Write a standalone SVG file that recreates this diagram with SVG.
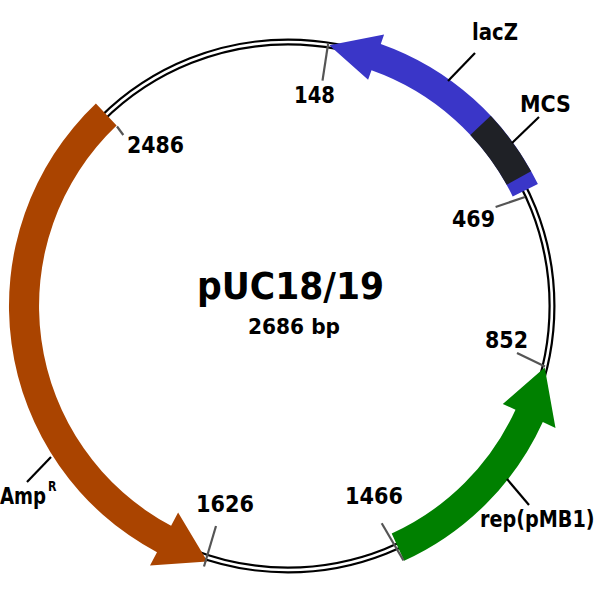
<svg xmlns="http://www.w3.org/2000/svg" width="600" height="600" viewBox="0 0 600 600">
<style>
text{font-family:"DejaVu Sans","Verdana",sans-serif;font-weight:bold;fill:#000}
.lbl{font-size:23px}
.tick{stroke:#555;stroke-width:2.2;fill:none}
.lead{stroke:#000;stroke-width:2.2;fill:none}
</style>
<rect width="600" height="600" fill="#fff"/>
<g id="backbone">
<circle cx="288" cy="306" r="264" fill="none" stroke="#000" stroke-width="7"/>
<circle cx="288" cy="306" r="264" fill="none" stroke="#fff" stroke-width="2.6"/>
</g>
<g id="lacZ">
<path d="M537.9,184.1 A278,278 0 0 0 380.8,44.0 L384.1,34.5 L329.3,45.3 L368.1,79.8 L371.5,70.3 A250,250 0 0 1 512.7,196.4 Z" fill="#3a36c8"/>
</g>
<g id="MCS">
<path d="M490.7,115.7 A278,278 0 0 1 531.1,171.2 L506.7,184.8 A250,250 0 0 0 470.3,134.9 Z" fill="#1f2126"/>
</g>
<g id="AmpR">
<path d="M95.9,103.6 A279,279 0 0 0 157.0,552.3 L150.0,565.6 L207.4,561.6 L178.1,512.6 L171.1,525.8 A249,249 0 0 1 116.6,125.4 Z" fill="#aa4400"/>
</g>
<g id="rep">
<path d="M404.1,560.8 A280,280 0 0 0 542.8,422.1 L555.5,427.9 L544.7,367.6 L502.8,403.9 L515.5,409.7 A250,250 0 0 1 391.7,533.5 Z" fill="#008000"/>
</g>
<g id="connectors">
<line class="tick" x1="328.2" y1="43.1" x2="322.5" y2="80.6"/>
<line class="tick" x1="525" y1="197" x2="495.6" y2="207.0"/>
<line class="tick" x1="545" y1="366.5" x2="517" y2="353"/>
<line class="tick" x1="403.5" y1="560.5" x2="381.7" y2="523.3"/>
<line class="tick" x1="204" y1="566.5" x2="216" y2="526"/>
<line class="tick" x1="117" y1="126.5" x2="123.3" y2="135"/>
<line class="lead" x1="448" y1="81" x2="475" y2="53"/>
<line class="lead" x1="512" y1="143" x2="539" y2="117"/>
<line class="lead" x1="507" y1="479" x2="529" y2="505"/>
<line class="lead" x1="51" y1="457" x2="27" y2="482"/>
</g>
<g id="labels">
<text x="197" y="299" font-size="37" textLength="187" lengthAdjust="spacingAndGlyphs">pUC18/19</text>
<text x="248" y="334" font-size="22" textLength="92" lengthAdjust="spacingAndGlyphs">2686 bp</text>
<text class="lbl" x="472" y="40" textLength="46" lengthAdjust="spacingAndGlyphs">lacZ</text>
<text class="lbl" x="520" y="112" textLength="51" lengthAdjust="spacingAndGlyphs">MCS</text>
<text transform="translate(480,527) scale(1,1.19)" font-size="19.2">rep(pMB1)</text>
<text transform="translate(0,504) scale(1,1.26)" font-size="18.2">Amp<tspan x="48" y="-10.5" font-size="11">R</tspan></text>
<text class="lbl" x="294" y="103" textLength="41" lengthAdjust="spacingAndGlyphs">148</text>
<text class="lbl" x="452" y="227" textLength="43" lengthAdjust="spacingAndGlyphs">469</text>
<text class="lbl" x="485" y="348" textLength="43" lengthAdjust="spacingAndGlyphs">852</text>
<text class="lbl" x="345" y="504" textLength="58" lengthAdjust="spacingAndGlyphs">1466</text>
<text class="lbl" x="196" y="512" textLength="58" lengthAdjust="spacingAndGlyphs">1626</text>
<text class="lbl" x="127" y="153" textLength="57" lengthAdjust="spacingAndGlyphs">2486</text>
</g>
</svg>
